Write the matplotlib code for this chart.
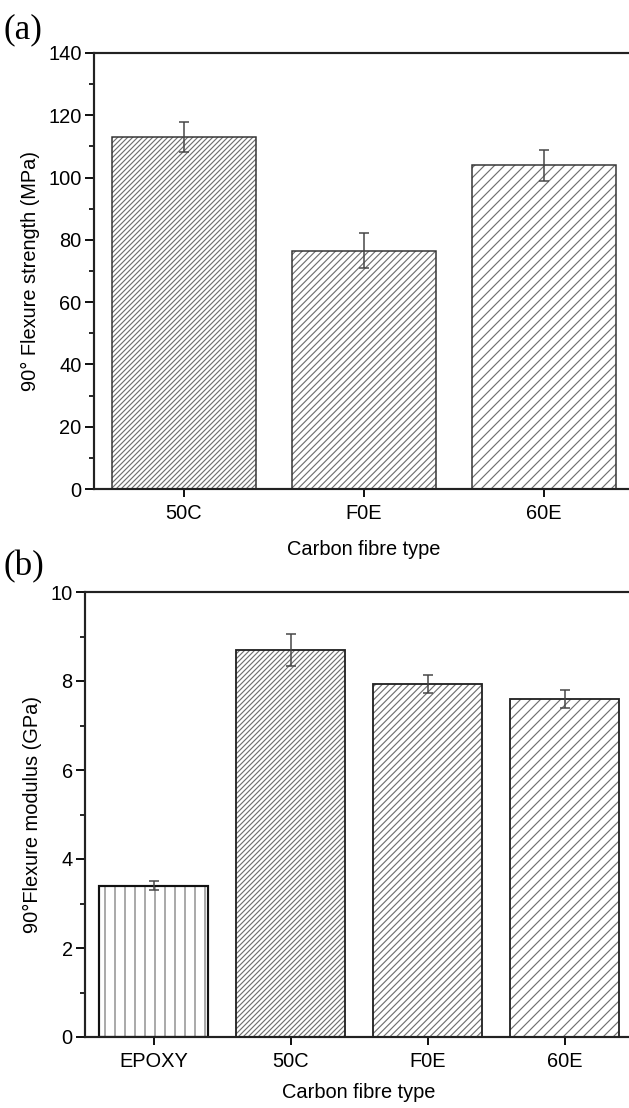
import matplotlib
matplotlib.use("Agg")
import matplotlib.pyplot as plt
from matplotlib.ticker import MultipleLocator

# ---- data ----
cats_a = ["50C", "F0E", "60E"]
strength = [113, 76.5, 104]
strength_err = [4.7, 5.6, 5.0]

cats_b = ["EPOXY", "50C", "F0E", "60E"]
modulus = [3.4, 8.7, 7.94, 7.6]
modulus_err = [0.1, 0.36, 0.2, 0.2]

hatches_a = ["////////", "//////", "////"]
hatches_b = ["||", "////////", "//////", "////"]

plt.rcParams['font.family'] = ['Liberation Sans', 'DejaVu Sans']
plt.rcParams['hatch.linewidth'] = 0.7

DPI = 120
W, H = 629, 1108
FS = 12
fig = plt.figure(figsize=(W / DPI, H / DPI), dpi=DPI)

def style(ax):
    ax.spines['right'].set_visible(False)
    for s in ['left', 'top', 'bottom']:
        ax.spines[s].set_linewidth(1.3)
        ax.spines[s].set_color('#222222')
    ax.tick_params(axis='y', which='major', direction='out', length=5.4, width=1.1, labelsize=FS, pad=2)
    ax.tick_params(axis='y', which='minor', direction='out', length=2.8, width=1.0)
    ax.tick_params(axis='x', which='major', direction='out', length=5.0, width=1.1, labelsize=FS, pad=4)
    ax.tick_params(axis='x', which='minor', bottom=False)
    ax.tick_params(top=False, right=False)

# Panel (a)
ax1 = fig.add_axes([94 / W, 1 - 489 / H, 540 / W, (489 - 53) / H])
x1 = range(len(cats_a))
for i in x1:
    ax1.bar(i, strength[i], width=0.8, color='white', edgecolor='#707070', hatch=hatches_a[i], linewidth=0)
    ax1.bar(i, strength[i], width=0.8, fill=False, edgecolor='#333333', linewidth=0.9)
ax1.errorbar(list(x1), strength, yerr=strength_err, fmt='none', ecolor='#444444', elinewidth=0.9, capsize=2.8, capthick=0.9)
ax1.set_xlim(-0.5, 2.5)
ax1.set_ylim(0, 140)
ax1.yaxis.set_major_locator(MultipleLocator(20))
ax1.yaxis.set_minor_locator(MultipleLocator(10))
ax1.set_xticks(list(x1))
ax1.set_xticklabels(cats_a)
ax1.set_ylabel("90\u00b0 Flexure strength (MPa)", fontsize=FS, labelpad=5)
ax1.set_xlabel("Carbon fibre type", fontsize=FS, labelpad=10)
style(ax1)

# Panel (b)
ax2 = fig.add_axes([85 / W, 1 - 1037 / H, 548 / W, (1037 - 592) / H])
x2 = range(len(cats_b))
for i in x2:
    if i == 0:
        ax2.bar(i, modulus[i], width=0.8, color='white', edgecolor='#707070', hatch=hatches_b[i], linewidth=0)
        ax2.bar(i, modulus[i], width=0.8, fill=False, edgecolor='#111111', linewidth=1.3)
    else:
        ax2.bar(i, modulus[i], width=0.8, color='white', edgecolor='#707070', hatch=hatches_b[i], linewidth=0)
        ax2.bar(i, modulus[i], width=0.8, fill=False, edgecolor='#222222', linewidth=1.1)
ax2.errorbar(list(x2), modulus, yerr=modulus_err, fmt='none', ecolor='#444444', elinewidth=0.9, capsize=2.8, capthick=0.9)
ax2.set_xlim(-0.5, 3.5)
ax2.set_ylim(0, 10)
ax2.yaxis.set_major_locator(MultipleLocator(2))
ax2.yaxis.set_minor_locator(MultipleLocator(1))
ax2.set_xticks(list(x2))
ax2.set_xticklabels(cats_b)
ax2.set_ylabel("90\u00b0Flexure modulus (GPa)", fontsize=FS, labelpad=5)
ax2.set_xlabel("Carbon fibre type", fontsize=FS, labelpad=7)
style(ax2)

fig.text(0.006, 1 - 30 / H, "(a)", fontsize=21, family='Liberation Serif', va='center', ha='left')
fig.text(0.006, 1 - 567 / H, "(b)", fontsize=21, family='Liberation Serif', va='center', ha='left')

fig.savefig("out.png", dpi=DPI, facecolor='white')
